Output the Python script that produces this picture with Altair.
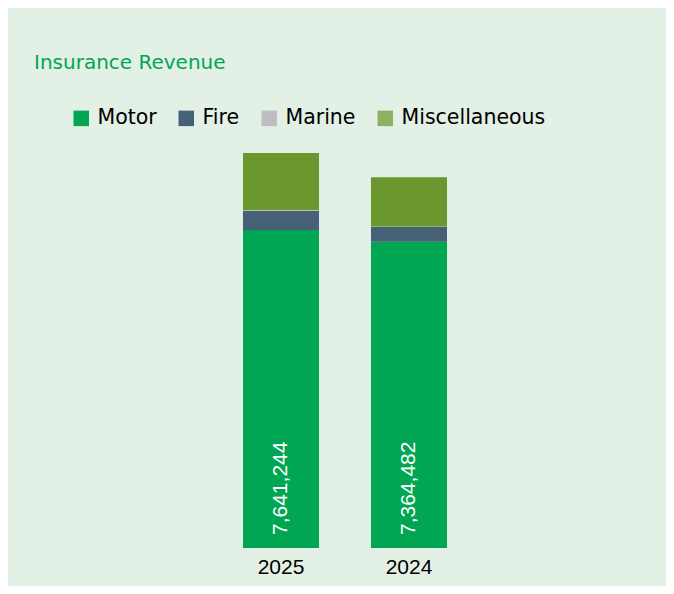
import altair as alt
import pandas as pd

years = ["2025", "2024"]
categories = ["Motor", "Fire", "Marine", "Miscellaneous"]
motor = [7641244, 7364482]
fire = [460000, 360000]
marine = [25000, 5000]
misc = [1370000, 1180000]

bar_colors = ["#00A651", "#466075", "#BEBEC2", "#6A982F"]
legend_colors = ["#00A651", "#466075", "#BEBEC2", "#8EB05F"]

rows = []
series = [motor, fire, marine, misc]
for i, yr in enumerate(years):
    for j, cat in enumerate(categories):
        rows.append({"year": yr, "category": cat, "order": j, "value": series[j][i]})
df = pd.DataFrame(rows)

base = alt.Chart(df)

x_enc = alt.X(
    "year:N",
    sort=years,
    title=None,
    scale=alt.Scale(paddingInner=0.406, paddingOuter=0.5),
    axis=alt.Axis(
        labelAngle=0,
        labelFont="Liberation Sans",
        labelFontSize=21,
        labelColor="#000000",
        ticks=False,
        tickSize=0,
        domain=False,
        grid=False,
        labelPadding=8,
    ),
)

y_scale = alt.Scale(domain=[0, 10000000], nice=False, zero=True)

bars = base.mark_bar().encode(
    x=x_enc,
    y=alt.Y("value:Q", stack="zero", scale=y_scale, axis=None),
    fill=alt.Fill(
        "category:N",
        scale=alt.Scale(domain=categories, range=bar_colors),
        legend=None,
    ),
    order=alt.Order("order:Q", sort="ascending"),
)

legend_layer = base.mark_bar(strokeWidth=0).encode(
    x=x_enc,
    y=alt.datum(0),
    y2=alt.datum(0),
    color=alt.Color(
        "category:N",
        sort=categories,
        scale=alt.Scale(range=legend_colors),
        legend=alt.Legend(
            title=None,
            orient="none",
            legendX=-108,
            legendY=-24,
            direction="horizontal",
            columns=4,
            symbolType="square",
            symbolSize=240,
            symbolStrokeWidth=0,
            symbolOffset=0,
            labelFont="DejaVu Sans",
            labelFontSize=20.5,
            labelColor="#000000",
            labelOffset=6,
            columnPadding=19,
            padding=0,
        ),
    ),
)

labels = base.transform_filter(alt.datum.category == "Motor").mark_text(
    angle=270,
    align="left",
    baseline="middle",
    color="#FFFFFF",
    font="Liberation Sans",
    fontSize=21,
).encode(
    x=x_enc,
    y=alt.datum(0),
    yOffset=alt.value(-13),
    text=alt.Text("value:Q", format=","),
)

chart = (
    alt.layer(bars, legend_layer, labels)
    .resolve_legend(color="independent", fill="independent")
    .properties(
        width=332,
        height=416,
        autosize=alt.AutoSizeParams(type="none"),
        padding={"left": 171, "top": 124, "right": 155, "bottom": 38},
        background="#E2F0E6",
        title=alt.TitleParams(
            "Insurance Revenue",
            anchor="start",
            frame="group",
            orient="top",
            dx=-145,
            offset=19,
            baseline="alphabetic",
            font="DejaVu Sans",
            fontSize=20,
            fontWeight="normal",
            color="#00A651",
        ),
    )
    .configure_view(stroke=None)
)

chart.save("out.html", embed_options={"renderer": "svg", "actions": False})
